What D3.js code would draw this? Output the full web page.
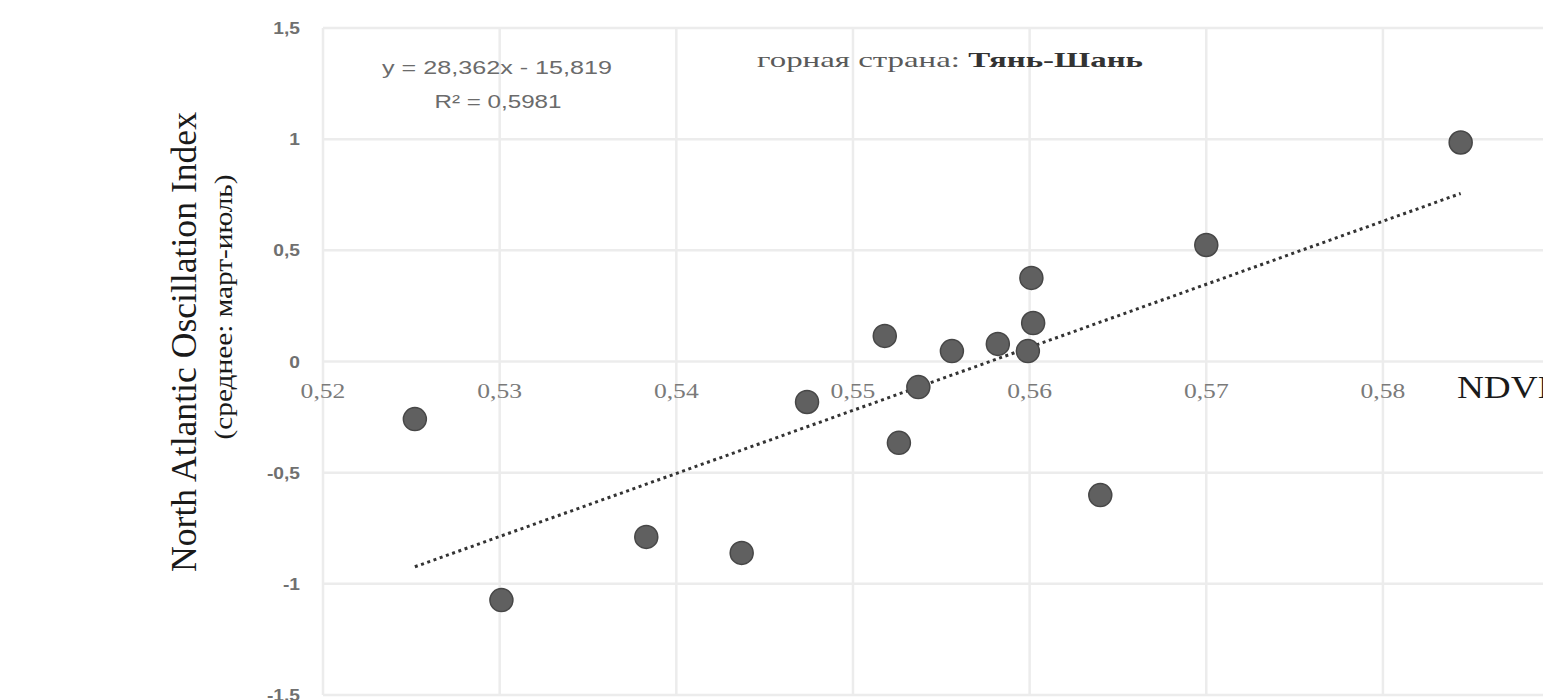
<!DOCTYPE html>
<html>
<head>
<meta charset="utf-8">
<script src="https://cdn.jsdelivr.net/npm/d3@7"></script>
<style>
  html, body { margin: 0; padding: 0; background: #fff; overflow: hidden; }
  svg { display: block; }
</style>
</head>
<body>
<svg id="chart" width="1543" height="700"></svg>
<script>
// NDVI (x) vs NAO index, mean March–July (y)
const ndvi = [0.5252, 0.5301, 0.5383, 0.5437, 0.5474, 0.5518, 0.5526, 0.5537,
              0.5556, 0.5582, 0.5599, 0.5602, 0.5601, 0.5640, 0.5700, 0.5844];
const nao  = [-0.259, -1.073, -0.789, -0.861, -0.182, 0.115, -0.366, -0.115,
              0.047, 0.079, 0.047, 0.173, 0.376, -0.601, 0.524, 0.985];

// Linear trend as printed on the chart
const trendSlope = 28.362;
const trendIntercept = -15.819;
const trendLabel = "y = 28,362x - 15,819";
const r2Label = "R\u00B2 = 0,5981";

const xGrid = [0.52, 0.53, 0.54, 0.55, 0.56, 0.57, 0.58, 0.59];
const xTickLabels = [0.52, 0.53, 0.54, 0.55, 0.56, 0.57, 0.58];
const yTicks = [-1.5, -1, -0.5, 0, 0.5, 1, 1.5];

const titlePlain = "горная страна: ";
const titleBold = "Тянь-Шань";
const yTitle = "North Atlantic Oscillation Index";
const ySubtitle = "(среднее: март-июль)";
const xTitle = "NDVI";

const svg = d3.select("#chart");
const SERIF = "'Liberation Serif', 'Times New Roman', serif";
const SANS = "'Liberation Sans', Arial, sans-serif";

const x = d3.scaleLinear().domain([0.52, 0.59]).range([323, 1559.6]);
const y = d3.scaleLinear().domain([-1.5, 1.5]).range([695, 28]);

const fmt = v => String(+v.toFixed(2)).replace(".", ",");

// grid
const grid = svg.append("g").attr("stroke", "#ececec").attr("stroke-width", 2.5);
grid.selectAll("line.v").data(xGrid).join("line").attr("class", "v")
  .attr("x1", d => x(d)).attr("x2", d => x(d))
  .attr("y1", y(1.5)).attr("y2", y(-1.5));
grid.selectAll("line.h").data(yTicks).join("line").attr("class", "h")
  .attr("x1", x(0.52)).attr("x2", x(0.59))
  .attr("y1", d => y(d)).attr("y2", d => y(d));

// text helper: optional horizontal stretch (sx) or fixed run length (len)
function label(g, px, py, str, o) {
  let tf = `translate(${px},${py})`;
  if (o.sx) tf += ` scale(${o.sx},1)`;
  if (o.rotate) tf += ` rotate(${o.rotate})`;
  const t = g.append("text")
    .attr("transform", tf)
    .attr("text-anchor", o.anchor || "start")
    .attr("font-family", o.family)
    .attr("font-size", o.size)
    .attr("fill", o.fill)
    .attr("font-weight", o.weight || "normal");
  if (o.len) t.attr("textLength", o.len).attr("lengthAdjust", "spacingAndGlyphs");
  if (str !== null) t.text(str);
  return t;
}

// y tick labels
const yl = svg.append("g");
yTicks.forEach(v => {
  label(yl, 300, y(v) + 6, fmt(v), {
    anchor: "end", family: SANS, size: 16, fill: "#707070", weight: "bold", sx: 1.2
  });
});

// x tick labels, just under the zero line
const xl = svg.append("g");
xTickLabels.forEach(v => {
  label(xl, x(v), y(0) + 36, fmt(v), {
    anchor: "middle", family: SERIF, size: 20, fill: "#7a7a7a", sx: 1.28
  });
});

// trend line over the data range
const xmin = d3.min(ndvi), xmax = d3.max(ndvi);
svg.append("line")
  .attr("x1", x(xmin)).attr("y1", y(trendSlope * xmin + trendIntercept))
  .attr("x2", x(xmax)).attr("y2", y(trendSlope * xmax + trendIntercept))
  .attr("stroke", "#333")
  .attr("stroke-width", 3)
  .attr("stroke-dasharray", "3 3.6");

// points
svg.append("g").selectAll("circle")
  .data(ndvi.map((v, i) => [v, nao[i]]))
  .join("circle")
  .attr("cx", d => x(d[0]))
  .attr("cy", d => y(d[1]))
  .attr("r", 11.5)
  .attr("fill", "#606060")
  .attr("stroke", "#474747")
  .attr("stroke-width", 1.5);

// equation and R²
label(svg, 497, 74, trendLabel, {
  anchor: "middle", family: SANS, size: 18.5, fill: "#6b6b6b", len: 230
});
label(svg, 498, 108, r2Label, {
  anchor: "middle", family: SANS, size: 18.5, fill: "#6b6b6b", len: 127
});

// title
const tt = label(svg, 950, 67, null, {
  anchor: "middle", family: SERIF, size: 22, fill: "#5a5a5a", len: 386
});
tt.append("tspan").text(titlePlain);
tt.append("tspan").attr("font-weight", "bold").attr("fill", "#333").text(titleBold);

// axis titles
label(svg, 196, 342, yTitle, {
  anchor: "middle", family: SERIF, size: 35, fill: "#1a1a1a", rotate: -90, len: 460
});
label(svg, 232, 307, ySubtitle, {
  anchor: "middle", family: SERIF, size: 25, fill: "#1a1a1a", rotate: -90, len: 265
});
label(svg, 1457, 398, xTitle, {
  anchor: "start", family: SERIF, size: 31, fill: "#1a1a1a", sx: 1.2
});
</script>
</body>
</html>
